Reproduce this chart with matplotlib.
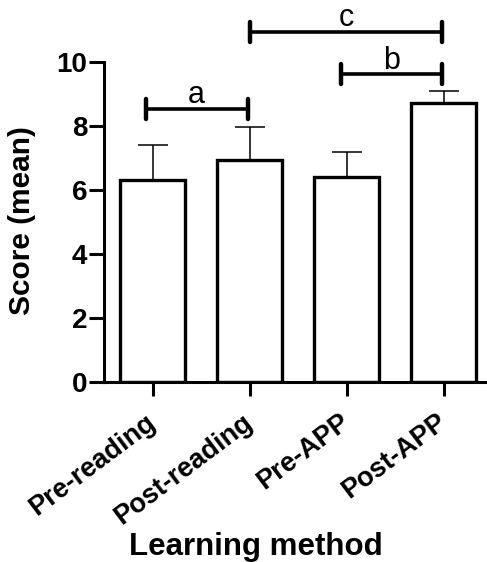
import numpy as np
import matplotlib.pyplot as plt

plt.rcParams['font.family'] = ['Liberation Sans', 'DejaVu Sans']

categories = ["Pre-reading", "Post-reading", "Pre-APP", "Post-APP"]
means = [6.31, 6.94, 6.40, 8.72]
errors = [1.10, 1.03, 0.79, 0.37]

# significance brackets: (left x, right x, height, letter)
brackets = [(-0.07, 0.98, 8.53, "a"),
            (1.94, 2.98, 9.62, "b"),
            (1.01, 2.98, 10.94, "c")]

W, H = 487, 562
fig = plt.figure(figsize=(W / 100, H / 100), dpi=100)
ax = fig.add_axes([104 / W, (H - 382) / H, 388 / W, 320 / H])

x = np.arange(len(categories))
ax.bar(x, means, width=0.68, color='white', edgecolor='black', linewidth=2.4, zorder=2)
ax.errorbar(x, means, yerr=[np.zeros(len(errors)), errors], fmt='none',
            ecolor='black', elinewidth=1.1, capsize=11, capthick=1.1, zorder=1)

for x0, x1, h, lab in brackets:
    ax.plot([x0, x1], [h, h], color='black', lw=2.6, clip_on=False, solid_capstyle='butt')
    for xe in (x0, x1):
        ax.plot([xe, xe], [h - 0.31, h + 0.31], color='black', lw=3.2, clip_on=False,
                solid_capstyle='round')
    ax.annotate(lab, ((x0 + x1) / 2, h), xytext=(0, 4), textcoords='offset points',
                ha='center', va='baseline', fontsize=22, annotation_clip=False)

ax.set_xlim(-0.5, 3.5)
ax.set_ylim(0, 10)
ax.set_yticks([0, 2, 4, 6, 8, 10])
ax.set_xticks(x)
ax.set_xticklabels(categories, rotation=37, ha='right', va='center',
                   rotation_mode='anchor', fontsize=19.5, fontweight='bold')
for t in ax.get_yticklabels():
    t.set_fontsize(20)
    t.set_fontweight('bold')

for s in ['top', 'right']:
    ax.spines[s].set_visible(False)
for s in ['left', 'bottom']:
    ax.spines[s].set_linewidth(2.2)
ax.tick_params(axis='y', width=2.2, length=11, pad=1)
ax.tick_params(axis='x', width=2.2, length=10, pad=17)

ax.set_ylabel("Score (mean)", fontsize=21.5, fontweight='bold', va='center')
ax.yaxis.set_label_coords(-0.211, 0.506)
ax.set_xlabel("Learning method", fontsize=22.5, fontweight='bold', va='center')
ax.xaxis.set_label_coords(0.392, -0.516)

fig.savefig("out.png", dpi=100)
